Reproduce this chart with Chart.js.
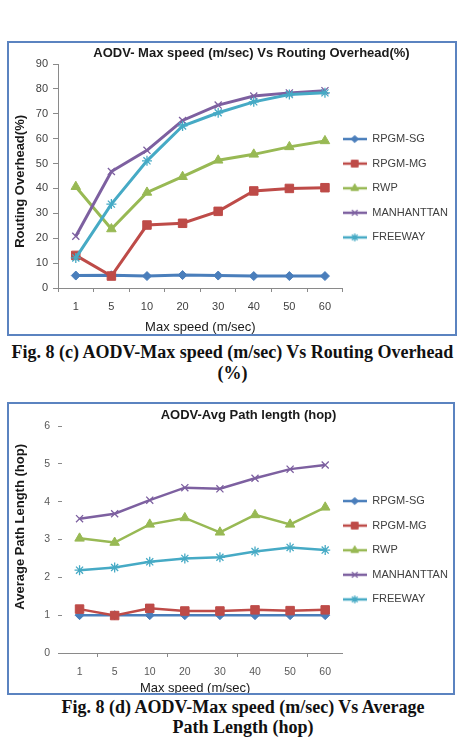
<!DOCTYPE html>
<html>
<head>
<meta charset="utf-8">
<script src="https://cdn.jsdelivr.net/npm/chart.js@4.4.1/dist/chart.umd.min.js"></script>
<style>
  html, body { margin: 0; padding: 0; background: #fff; width: 459px; height: 743px; overflow: hidden; }
  .frame { position: absolute; box-sizing: border-box; border: 2px solid #5b83c0; background: #fff; }
  .frame canvas { display: block; }
  .caption { position: absolute; font-family: 'Liberation Serif', 'Times New Roman', serif; font-weight: bold; font-size: 18px; text-align: center; color: #111; }
</style>
</head>
<body>

<div class="frame" style="left:7px; top:41px; width:450px; height:295px;">
  <canvas id="overheadChart" width="446" height="291"></canvas>
</div>
<div class="caption" style="left:0; top:342px; width:465px; line-height:21px;">Fig. 8 (c) AODV-Max speed (m/sec) Vs Routing Overhead<br>(%)</div>

<div class="frame" style="left:7px; top:402px; width:448px; height:293px;">
  <canvas id="pathChart" width="444" height="289"></canvas>
</div>
<div class="caption" style="left:20px; top:698px; width:446px; line-height:19.5px;">Fig. 8 (d) AODV-Max speed (m/sec) Vs Average<br>Path Length (hop)</div>

<script>
// x categories, shared by both charts
const SPEEDS = ['1', '5', '10', '20', '30', '40', '50', '60'];
const SERIES_NAMES = ['RPGM-SG', 'RPGM-MG', 'RWP', 'MANHANTTAN', 'FREEWAY'];

// Fig 8 (c) routing overhead (%)
const OVERHEAD_SG  = [5.0, 5.1, 4.8, 5.2, 5.0, 4.8, 4.8, 4.8];
const OVERHEAD_MG  = [13.1, 4.8, 25.3, 26.0, 30.8, 39.0, 40.0, 40.3];
const OVERHEAD_RWP = [40.7, 23.7, 38.4, 44.7, 51.3, 53.7, 56.7, 59.1];
const OVERHEAD_MAN = [20.8, 46.8, 55.3, 67.3, 73.5, 77.1, 78.4, 79.3];
const OVERHEAD_FWY = [12.1, 33.7, 51.1, 65.1, 70.4, 74.8, 77.7, 78.4];

// Fig 8 (d) average path length (hop)
const PATH_SG  = [1.0, 1.0, 1.0, 1.0, 1.0, 1.0, 1.0, 1.0];
const PATH_MG  = [1.16, 0.99, 1.18, 1.11, 1.11, 1.14, 1.12, 1.14];
const PATH_RWP = [3.03, 2.92, 3.40, 3.57, 3.19, 3.65, 3.40, 3.85];
const PATH_MAN = [3.55, 3.68, 4.04, 4.37, 4.34, 4.62, 4.86, 4.97];
const PATH_FWY = [2.19, 2.26, 2.41, 2.50, 2.53, 2.68, 2.79, 2.72];

// excel 2007 look
const COLORS = ['#4a7ebb', '#be4b48', '#98b954', '#7d60a0', '#46aac5'];
const MARKERS = [
   { style: 'rectRot',  radius: 4.5, border: 1 },
   { style: 'rect',     radius: 6,   border: 1 },
   { style: 'triangle', radius: 5.5, border: 1 },
   { style: 'crossRot', radius: 5,   border: 1.3 },
   { style: 'star',     radius: 5,   border: 1.3 }
];
const AXIS_GREY = '#8a8a8a';
const FONT = "'Liberation Sans', Arial, sans-serif";

// small line + marker picture for the legend, like excel draws it
function legendIcon(color, marker) {
   const c = document.createElement('canvas');
   c.width = 24;
   c.height = 14;
   const ctx = c.getContext('2d');
   ctx.strokeStyle = color;
   ctx.lineWidth = 2.5;
   ctx.beginPath();
   ctx.moveTo(0, 7);
   ctx.lineTo(24, 7);
   ctx.stroke();
   ctx.fillStyle = color;
   ctx.lineWidth = marker.border;
   Chart.helpers.drawPoint(ctx, { pointStyle: marker.style, radius: marker.radius * 0.8, borderWidth: marker.border, rotation: 0 }, 12, 7);
   return c;
}

// moves the title sideways and the legend down, the way the excel chart sits
const nudgePlugin = {
   id: 'nudge',
   afterLayout(chart, args, opts) {
      if (chart.titleBlock && opts.titleX) {
         chart.titleBlock.left += opts.titleX;
         chart.titleBlock.right += opts.titleX;
      }
      if (chart.legend) {
         chart.legend.top += opts.legendY || 0;
         chart.legend.bottom += opts.legendY || 0;
         chart.legend.left += opts.legendX || 0;
         chart.legend.right += opts.legendX || 0;
      }
   }
};

function makeDatasets(values, lineWidth) {
   return values.map((data, i) => ({
      label: SERIES_NAMES[i],
      data: data,
      borderColor: COLORS[i],
      backgroundColor: COLORS[i],
      borderWidth: lineWidth,
      tension: 0,
      pointStyle: MARKERS[i].style,
      pointRadius: MARKERS[i].radius,
      pointHoverRadius: MARKERS[i].radius,
      pointBorderWidth: MARKERS[i].border,
      pointBackgroundColor: COLORS[i],
      pointBorderColor: COLORS[i],
      order: values.length - i   // later series on top, as in excel
   }));
}

function makeChart(canvas, cfg) {
   return new Chart(canvas, {
      type: 'line',
      data: {
         labels: SPEEDS,
         datasets: makeDatasets(cfg.values, cfg.lineWidth)
      },
      plugins: [nudgePlugin],
      options: {
         responsive: false,
         maintainAspectRatio: false,
         animation: false,
         layout: { padding: { left: 0, top: 0, bottom: 0, right: cfg.padRight } },
         plugins: {
            nudge: { titleX: cfg.titleX, legendY: cfg.legendY, legendX: cfg.legendX },
            tooltip: { enabled: false },
            title: {
               display: true,
               text: cfg.title,
               color: '#1a1a1a',
               font: { family: FONT, size: 13, weight: 'bold', lineHeight: 1.2 },
               padding: cfg.titlePad
            },
            legend: {
               position: 'right',
               align: 'center',
               labels: {
                  usePointStyle: true,
                  pointStyleWidth: 24,
                  padding: 3,
                  color: '#404040',
                  font: { family: FONT, size: 11, lineHeight: 1.9636 },
                  generateLabels: (chart) => chart.data.datasets.map((ds, i) => ({
                     text: [ds.label],
                     pointStyle: legendIcon(COLORS[i], MARKERS[i]),
                     fillStyle: COLORS[i],
                     strokeStyle: COLORS[i],
                     lineWidth: 0,
                     hidden: false,
                     fontColor: '#404040',
                     datasetIndex: i
                  }))
               }
            }
         },
         scales: {
            x: {
               offset: true,
               grid: {
                  offset: true,
                  drawOnChartArea: false,
                  drawTicks: true,
                  tickLength: 4,
                  color: cfg.xTickColor
               },
               border: { display: true, color: AXIS_GREY, width: 1 },
               ticks: {
                  color: cfg.tickColor,
                  padding: cfg.xTickPad,
                  maxRotation: 0,
                  font: { family: FONT, size: cfg.tickSize }
               },
               title: {
                  display: true,
                  text: cfg.xTitle,
                  color: '#1a1a1a',
                  font: { family: FONT, size: 13, lineHeight: 1 },
                  padding: { top: 0, bottom: cfg.xTitlePadBottom }
               },
               afterFit: (s) => { s.height = cfg.xHeight; }
            },
            y: {
               min: cfg.yMin,
               max: cfg.yMax,
               ticks: {
                  stepSize: cfg.yStep,
                  color: cfg.tickColor,
                  padding: cfg.yTickPad,
                  font: { family: FONT, size: cfg.tickSize }
               },
               grid: {
                  drawOnChartArea: false,
                  drawTicks: true,
                  tickLength: cfg.yTickLen,
                  color: AXIS_GREY
               },
               border: { display: cfg.yBorder, color: AXIS_GREY, width: 1 },
               title: {
                  display: true,
                  text: cfg.yTitle,
                  color: '#1a1a1a',
                  font: { family: FONT, size: 13, weight: 'bold', lineHeight: 1.2 },
                  padding: { top: 3.2, bottom: 0 }
               },
               afterFit: (s) => { s.width = cfg.yWidth; }
            }
         }
      }
   });
}

makeChart(document.getElementById('overheadChart'), {
   values: [OVERHEAD_SG, OVERHEAD_MG, OVERHEAD_RWP, OVERHEAD_MAN, OVERHEAD_FWY],
   lineWidth: 3,
   title: 'AODV- Max speed (m/sec) Vs Routing Overhead(%)',
   titlePad: { top: 2.2, bottom: 3.2 },
   titleX: 20,
   legendY: 5,
   legendX: -3,
   padRight: 1,
   xTitle: 'Max speed (m/sec)',
   xTitlePadBottom: 0,
   xHeight: 46,
   xTickPad: 8.4,
   xTickColor: AXIS_GREY,
   yTitle: 'Routing Overhead(%)   ',
   yMin: 0, yMax: 90, yStep: 10,
   yWidth: 49,
   yTickLen: 5,
   yTickPad: 5,
   yBorder: true,
   tickSize: 11,
   tickColor: '#3f3f3f'
});

makeChart(document.getElementById('pathChart'), {
   values: [PATH_SG, PATH_MG, PATH_RWP, PATH_MAN, PATH_FWY],
   lineWidth: 2.5,
   title: 'AODV-Avg Path length (hop)',
   titlePad: { top: 3.2, bottom: 3.2 },
   titleX: 17,
   legendY: 7,
   legendX: -3,
   padRight: -1,
   xTitle: 'Max speed (m/sec)    ',
   xTitlePadBottom: -1.5,
   xHeight: 40,
   xTickPad: 9,
   // excel left only every second tick mark on this axis
   xTickColor: (ctx) => (ctx.index % 2 === 1 ? AXIS_GREY : 'rgba(0,0,0,0)'),
   yTitle: '       Average Path Length (hop)',
   yMin: 0, yMax: 6, yStep: 1,
   yWidth: 53,
   yTickLen: 4,
   yTickPad: 8,
   yBorder: false,
   tickSize: 10.5,
   tickColor: '#595959'
});
</script>
</body>
</html>
